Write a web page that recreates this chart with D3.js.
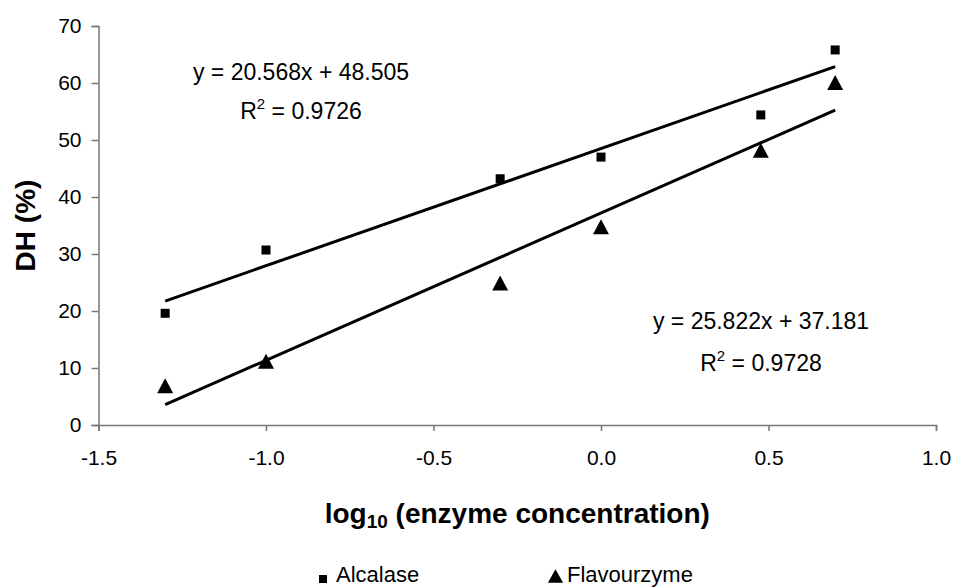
<!DOCTYPE html>
<html lang="en">
<head>
  <meta charset="UTF-8">
  <title>DH vs log enzyme concentration</title>
  <script src="https://d3js.org/d3.v7.min.js"></script>
  <style>
    html, body { margin: 0; padding: 0; background: #fff; }
    svg { display: block; font-family: "Liberation Sans", Arial, sans-serif; }
    .tick text { font-size: 21px; fill: #000; }
    .domain, .tick line { stroke: #777; stroke-width: 1.5px; }
    .fit { fill: none; stroke: #000; stroke-width: 3px; }
    .eq { font-size: 23px; fill: #000; }
    .title { font-size: 28px; font-weight: bold; fill: #000; }
    .legend text { font-size: 22px; fill: #000; }
  </style>
</head>
<body>
  <div id="chart"></div>
  <script>
    // log10 of enzyme concentration
    const logConc = [-1.301, -1.0, -0.301, 0.0, 0.477, 0.699];
    // degree of hydrolysis (%)
    const alcalase = [19.6, 30.7, 43.2, 47.0, 54.4, 65.8];
    const flavourzyme = [6.9, 11.2, 24.9, 34.8, 48.2, 60.1];

    // trendline coefficients printed on the chart: slope, intercept, R²
    const alcalaseFit = [20.568, 48.505, "0.9726"];
    const flavourzymeFit = [25.822, 37.181, "0.9728"];

    const xTicks = [-1.5, -1.0, -0.5, 0.0, 0.5, 1.0];
    const yTicks = [0, 10, 20, 30, 40, 50, 60, 70];

    const width = 956, height = 588;
    const margin = { left: 98.5, right: 20, top: 26, bottom: 163 };

    const svg = d3.select("#chart").append("svg")
      .attr("width", width)
      .attr("height", height);

    const x = d3.scaleLinear().domain([-1.5, 1.0]).range([margin.left, width - margin.right]);
    const y = d3.scaleLinear().domain([0, 70]).range([height - margin.bottom, margin.top]);

    // axes
    svg.append("g")
      .attr("transform", `translate(0,${y(0)})`)
      .call(d3.axisBottom(x).tickValues(xTicks).tickFormat(d => d.toFixed(1)).tickSize(6).tickPadding(19))
      .call(g => g.selectAll(".tick text").attr("dy", "0.71em"));

    svg.append("g")
      .attr("transform", `translate(${x(-1.5)},0)`)
      .call(d3.axisLeft(y).tickValues(yTicks).tickSize(7).tickPadding(10));

    // trend lines over the range of the data
    const xMin = d3.min(logConc), xMax = d3.max(logConc);
    function fitLine(fit) {
      return d3.line()([[x(xMin), y(fit[0] * xMin + fit[1])], [x(xMax), y(fit[0] * xMax + fit[1])]]);
    }
    svg.append("path").attr("class", "fit").attr("d", fitLine(alcalaseFit));
    svg.append("path").attr("class", "fit").attr("d", fitLine(flavourzymeFit));

    // markers
    const sq = 9;
    svg.append("g").selectAll("rect")
      .data(logConc.map((c, i) => [c, alcalase[i]]))
      .join("rect")
      .attr("x", d => x(d[0]) - sq / 2)
      .attr("y", d => y(d[1]) - sq / 2)
      .attr("width", sq).attr("height", sq)
      .attr("fill", "#000");

    const triW = 16, triH = 15;
    const tri = `M0,${-triH / 2}L${triW / 2},${triH / 2}L${-triW / 2},${triH / 2}Z`;
    svg.append("g").selectAll("path")
      .data(logConc.map((c, i) => [c, flavourzyme[i]]))
      .join("path")
      .attr("d", tri)
      .attr("transform", d => `translate(${x(d[0])},${y(d[1])})`)
      .attr("fill", "#000");

    // equations
    function equation(fit, cx, by, gap) {
      svg.append("text").attr("class", "eq").attr("text-anchor", "middle")
        .attr("x", cx).attr("y", by)
        .text(`y = ${fit[0].toFixed(3)}x + ${fit[1].toFixed(3)}`);
      const r = svg.append("text").attr("class", "eq").attr("text-anchor", "middle")
        .attr("x", cx).attr("y", by + gap);
      r.append("tspan").text("R");
      r.append("tspan").attr("font-size", 15).attr("dy", -10).text("2");
      r.append("tspan").attr("dy", 10).text(" = " + fit[2]);
    }
    equation(alcalaseFit, 301, 80, 39);
    equation(flavourzymeFit, 761, 329, 42);

    // axis titles
    const xt = svg.append("text").attr("class", "title").attr("text-anchor", "middle")
      .attr("x", (x(-1.5) + x(1.0)) / 2).attr("y", 523);
    xt.append("tspan").text("log");
    xt.append("tspan").attr("font-size", 19).attr("dy", 5).text("10");
    xt.append("tspan").attr("dy", -5).text(" (enzyme concentration)");

    svg.append("text").attr("class", "title").attr("text-anchor", "middle")
      .attr("transform", `translate(35,${(y(0) + y(70)) / 2}) rotate(-90)`)
      .text("DH (%)");

    // legend
    const legend = svg.append("g").attr("class", "legend");
    legend.append("rect").attr("x", 319).attr("y", 575).attr("width", 8).attr("height", 8).attr("fill", "#000");
    legend.append("text").attr("x", 336).attr("y", 582).text("Alcalase");
    legend.append("path").attr("d", tri).attr("transform", "translate(555.5,576) scale(0.95,0.9)").attr("fill", "#000");
    legend.append("text").attr("x", 567).attr("y", 582).text("Flavourzyme");
  </script>
</body>
</html>
